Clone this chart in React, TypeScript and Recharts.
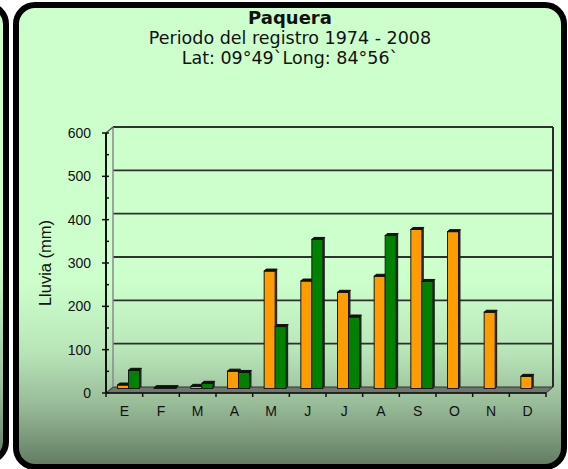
import { Bar, BarChart, CartesianGrid, XAxis, YAxis } from "recharts";

const months = ["E", "F", "M", "A", "M", "J", "J", "A", "S", "O", "N", "D"];
const orangeMm = [8, 2, 5, 40, 271, 248, 222, 259, 367, 362, 176, 28];
const greenMm = [42, 2, 12, 37, 143, 344, 165, 353, 247, 0, 0, 0];
const yTicks = [0, 50, 100, 150, 200, 250, 300, 350, 400, 450, 500, 550, 600];
const gridValues = [0, 100, 200, 300, 400, 500, 600];

const data = months.map((m, i) => ({ mes: m, serieA: orangeMm[i], serieB: greenMm[i] }));

const W = 568;
const H = 469;
const X_AXIS_H = 30;
const M = { top: 133, right: 22, bottom: 76 - X_AXIS_H, left: 0 };
const Y_AXIS_W = 106;
const PLOT_L = M.left + Y_AXIS_W;
const PLOT_R = W - M.right;
const PLOT_T = M.top;
const PLOT_B = H - M.bottom - X_AXIS_H;
const BAND = (PLOT_R - PLOT_L) / months.length;
// depth of the fake 3d box (back wall) and of the bars (mid depth)
const WALL_DX = 7;
const WALL_DY = 6;
const BAR_DX = 4.5;
const BAR_DY = 4.5;
const AXIS_FONT = "'Liberation Sans', Arial, sans-serif";

function WallLine(p: any) {
  const { x1, x2, y1 } = p;
  const yb = y1 - WALL_DY;
  if (Math.abs(y1 - PLOT_B) < 0.5) {
    // floor
    return (
      <polygon
        points={`${x1},${y1} ${x2},${y1} ${x2 + WALL_DX},${yb} ${x1 + WALL_DX},${yb}`}
        fill="#6e766e"
        stroke="#333"
        strokeWidth={1}
      />
    );
  }
  const isTop = Math.abs(y1 - PLOT_T) < 0.5;
  return (
    <g>
      <line x1={x1 + WALL_DX} y1={yb} x2={x2 + WALL_DX} y2={yb} stroke="#1c1c1c" strokeWidth={1.8} strokeOpacity={0.9} />
      {isTop && (
        <g>
          <line x1={x1 + WALL_DX} y1={yb} x2={x1 + WALL_DX} y2={PLOT_B - WALL_DY} stroke="#8a8a8a" strokeWidth={1.5} />
          <line x1={x2 + WALL_DX} y1={yb} x2={x2 + WALL_DX} y2={PLOT_B - WALL_DY} stroke="#2a2a2a" strokeWidth={2} />
          <line x1={x1} y1={y1} x2={x1 + WALL_DX} y2={yb} stroke="#555" strokeWidth={1.5} />
        </g>
      )}
    </g>
  );
}

function Bar3D(props: any) {
  const { x, y, width, height, fill } = props;
  if (!height || height <= 0) return null;
  const fx = x + BAR_DX;
  const fy = y - BAR_DY;
  const d = 2;
  return (
    <g>
      <polygon
        points={`${fx + width},${fy} ${fx + width + d},${fy - d} ${fx + width + d},${fy + height - d} ${fx + width},${fy + height}`}
        fill="#222"
      />
      <rect x={fx} y={fy} width={width} height={height} fill={fill} stroke="#1a1a1a" strokeWidth={1} />
      <polygon
        points={`${fx},${fy} ${fx + width},${fy} ${fx + width + d},${fy - d} ${fx + d},${fy - d}`}
        fill="#111"
        stroke="#111"
        strokeWidth={1}
      />
    </g>
  );
}

function XTick(p: any) {
  const { x, y, payload, index } = p;
  const half = BAND / 2;
  return (
    <g>
      <line x1={x - half} y1={y} x2={x - half} y2={y + 4} stroke="#111" strokeWidth={1.5} />
      {index === months.length - 1 && (
        <line x1={x + half} y1={y} x2={x + half} y2={y + 4} stroke="#111" strokeWidth={1.5} />
      )}
      <text x={x} y={y + 23} textAnchor="middle" fontFamily={AXIS_FONT} fontSize={14} fill="#111">
        {payload.value}
      </text>
    </g>
  );
}

function YTick(p: any) {
  const { x, y, payload } = p;
  const major = payload.value % 100 === 0;
  return (
    <g>
      <line x1={major ? x - 4 : x} y1={y} x2={x + 3} y2={y} stroke="#111" strokeWidth={1.5} />
      {major && (
        <text x={x - 15} y={y + 5} textAnchor="end" fontFamily={AXIS_FONT} fontSize={14} fill="#111">
          {payload.value}
        </text>
      )}
    </g>
  );
}

function YLabel(p: any) {
  const vb = p.viewBox || { y: PLOT_T, height: PLOT_B - PLOT_T };
  const cy = vb.y + vb.height / 2;
  return (
    <text
      x={51}
      y={cy}
      transform={`rotate(-90 51 ${cy})`}
      textAnchor="middle"
      fontFamily={AXIS_FONT}
      fontSize={16.5}
      fill="#111"
    >
      Lluvia (mm)
    </text>
  );
}

export default function App() {
  return (
    <div style={{ position: "absolute", left: 0, top: 0, width: W, height: H, background: "#fff", overflow: "hidden" }}>
      <div
        style={{
          position: "absolute",
          left: -300,
          top: 2,
          width: 309,
          height: 462,
          boxSizing: "border-box",
          border: "6px solid #000",
          borderRadius: 22,
          background: "linear-gradient(#ccffcc 0%, #ccffcc 55%, #98bb98 85%, #647d64 100%)",
        }}
      />
      <div
        style={{
          position: "absolute",
          left: 13,
          top: 2,
          width: 554,
          height: 468,
          boxSizing: "border-box",
          border: "6px solid #000",
          borderRadius: 22,
          background:
            "linear-gradient(#ccffcc 0%, #ccffcc 60%, #b9e6b9 75%, #98bb98 87%, #647d64 100%)",
        }}
      />
      <div
        style={{
          position: "absolute",
          left: 0,
          top: 8,
          width: 580,
          textAlign: "center",
          fontFamily: "'DejaVu Sans', Verdana, sans-serif",
          color: "#111",
          lineHeight: "20px",
        }}
      >
        <div style={{ fontWeight: "bold", fontSize: 18 }}>Paquera</div>
        <div style={{ fontSize: 17.5 }}>Periodo del registro 1974 - 2008</div>
        <div style={{ fontSize: 17.5 }}>Lat: 09°49`Long: 84°56`</div>
      </div>
      <BarChart
        width={W}
        height={H}
        data={data}
        margin={M}
        barCategoryGap={7}
        barGap={0}
        style={{ position: "absolute", left: 0, top: 0 }}
      >
        <CartesianGrid horizontalValues={gridValues} vertical={false} horizontal={(p: any) => <WallLine {...p} />} />
        <XAxis
          dataKey="mes"
          height={X_AXIS_H}
          interval={0}
          tickLine={false}
          tickSize={0}
          tickMargin={0}
          axisLine={{ stroke: "#111", strokeWidth: 1.5 }}
          tick={<XTick />}
        />
        <YAxis
          width={Y_AXIS_W}
          domain={[0, 600]}
          ticks={yTicks}
          interval={0}
          tickLine={false}
          tickSize={0}
          tickMargin={0}
          axisLine={{ stroke: "#111", strokeWidth: 2 }}
          tick={<YTick />}
          label={<YLabel />}
        />
        <Bar dataKey="serieA" fill="#ff9c00" shape={<Bar3D />} isAnimationActive={false} />
        <Bar dataKey="serieB" fill="#008200" shape={<Bar3D />} isAnimationActive={false} />
      </BarChart>
    </div>
  );
}
